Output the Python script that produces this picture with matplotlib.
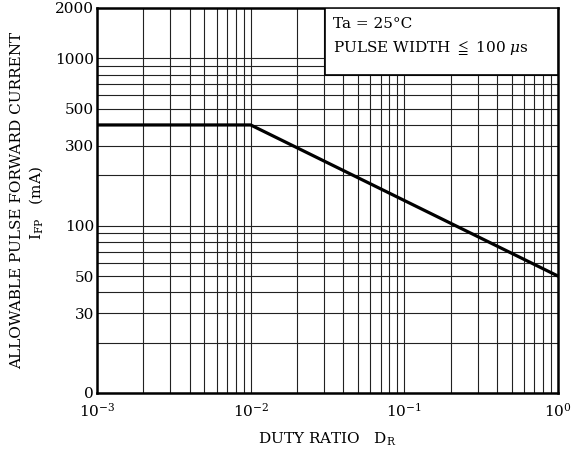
import matplotlib.pyplot as plt
from matplotlib.patches import Rectangle
from matplotlib.ticker import FixedLocator, NullFormatter

plt.rcParams['font.family'] = ['DejaVu Serif', 'DejaVu Sans']
plt.rcParams['mathtext.fontset'] = 'dejavuserif'

# derating curve: flat up to 1 % duty, then falls on a log-log line
duty = [1e-3, 1e-2, 1.0]
ifp = [400, 400, 50]

y_major = [10, 30, 50, 100, 300, 500, 1000, 2000]
y_major_labels = ['0', '30', '50', '100', '300', '500', '1000', '2000']
y_minor = [20, 40, 60, 70, 80, 90, 200, 400, 600, 700, 800, 900]
x_major = [1e-3, 1e-2, 1e-1, 1.0]
x_major_labels = ['$10^{-3}$', '$10^{-2}$', '$10^{-1}$', '$10^{0}$']

fig = plt.figure(figsize=(5.71, 4.57), dpi=100)
ax = fig.add_axes([97 / 571, 64 / 457, 461 / 571, 385 / 457])

ax.set_xscale('log')
ax.set_yscale('log')
ax.set_xlim(1e-3, 1)
ax.set_ylim(10, 2000)

ax.yaxis.set_major_locator(FixedLocator(y_major))
ax.set_yticklabels(y_major_labels)
ax.yaxis.set_minor_locator(FixedLocator(y_minor))
ax.yaxis.set_minor_formatter(NullFormatter())
ax.set_xticks(x_major)
ax.set_xticklabels(x_major_labels)
ax.xaxis.set_minor_locator(FixedLocator(
    [m * d for d in (1e-3, 1e-2, 1e-1) for m in range(2, 10)]))
ax.xaxis.set_minor_formatter(NullFormatter())

ax.tick_params(which='both', length=0, labelsize=11)
ax.tick_params(axis='x', pad=6)
ax.tick_params(axis='y', pad=2)
ax.grid(True, which='both', color='#222222', linewidth=0.8)
# lift the bottom "0" a little so it clears the 10^-3 label
ax.get_yticklabels()[0].set_va('center_baseline')

for s in ax.spines.values():
    s.set_linewidth(1.8)

ax.plot(duty, ifp, color='black', linewidth=2.3, zorder=3)

# condition box in the upper right corner
ax.add_patch(Rectangle((0.4946, 0.826), 0.5054, 0.174, transform=ax.transAxes,
                       facecolor='white', edgecolor='black', linewidth=1.2, zorder=4))
ax.text(0.512, 0.958, 'Ta = 25°C', transform=ax.transAxes, fontsize=11,
        va='center', ha='left', zorder=5)
ax.text(0.512, 0.895, 'PULSE WIDTH $\\leqq$ 100 $\\mu$s', transform=ax.transAxes,
        fontsize=11, va='center', ha='left', zorder=5)

fig.text(17 / 571, 1 - 200 / 457, 'ALLOWABLE PULSE FORWARD CURRENT',
         rotation=90, ha='center', va='center', fontsize=11)
fig.text(36 / 571, 1 - 203 / 457, '$\\mathrm{I}_{\\mathrm{FP}}$   (mA)',
         rotation=90, ha='center', va='center', fontsize=11)
fig.text(327 / 571, 1 - 439 / 457, 'DUTY RATIO   $\\mathrm{D}_{\\mathrm{R}}$',
         ha='center', va='center', fontsize=11)

fig.savefig('out.png', dpi=100)
